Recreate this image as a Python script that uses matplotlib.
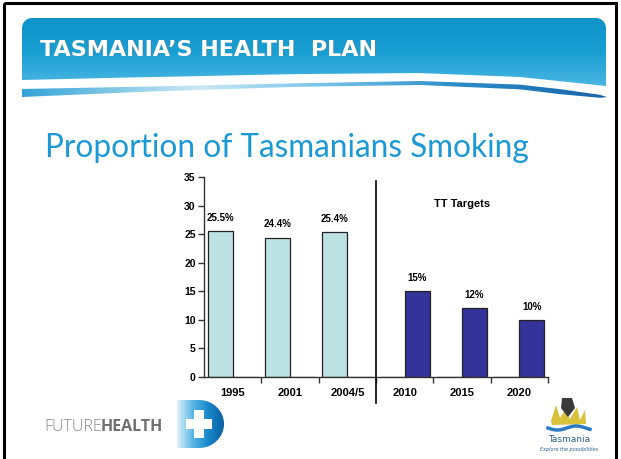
import numpy as np
import matplotlib
matplotlib.use("Agg")
import matplotlib.pyplot as plt
import matplotlib.transforms as mtransforms
from matplotlib.path import Path
from matplotlib.patches import PathPatch, Rectangle, Polygon
from matplotlib.colors import LinearSegmentedColormap

# ---- data ----
categories = ["1995", "2001", "2004/5", "2010", "2015", "2020"]
actual = [25.5, 24.4, 25.4, 0, 0, 0]
targets = [0, 0, 0, 15, 12, 10]
actual_labels = ["25.5%", "24.4%", "25.4%", "", "", ""]
target_labels = ["", "", "", "15%", "12%", "10%"]
yticks = [0, 5, 10, 15, 20, 25, 30, 35]

W, H = 621, 459
fig = plt.figure(figsize=(W / 100, H / 100), dpi=100)
fig.patch.set_facecolor("white")

# overlay axes in pixel coordinates for slide decorations
deco = fig.add_axes([0, 0, 1, 1])
deco.set_xlim(0, W)
deco.set_ylim(H, 0)
deco.axis("off")

# frame
deco.add_patch(Rectangle((4, 3), 612, 460, fill=False, ec="black", lw=2.2, zorder=5))

# header banner with gradient
xs = np.linspace(22, 606, 200)
yb = np.interp(xs, [22, 150, 300, 420, 520, 606], [80, 77, 74, 73, 77, 86])
r = 10
top = []
for a in np.linspace(np.pi, 1.5 * np.pi, 10):
    top.append((22 + r + r * np.cos(a), 18 + r + r * np.sin(a)))
for a in np.linspace(1.5 * np.pi, 2 * np.pi, 10):
    top.append((606 - r + r * np.cos(a), 18 + r + r * np.sin(a)))
bottom = list(zip(xs[::-1], yb[::-1]))
verts = top + bottom + [top[0]]
banner_patch = PathPatch(Path(verts), fc="none", ec="none")
deco.add_patch(banner_patch)
grad = np.linspace(0, 1, 100).reshape(-1, 1)
cmap_b = LinearSegmentedColormap.from_list("b", ["#0d93c9", "#1a9fd3", "#4db7e3"])
im = deco.imshow(grad, extent=(22, 606, 88, 18), cmap=cmap_b, aspect="auto", zorder=1)
im.set_clip_path(banner_patch)

# lower wave stripe
xs2 = np.linspace(22, 606, 200)
c = np.interp(xs2, [22, 150, 300, 420, 520, 606], [93, 89, 85, 83, 87, 97])
t = np.interp(xs2, [22, 150, 300, 420, 560, 600, 606], [8, 5, 3.5, 4, 5, 3, 0.5])
stripe = list(zip(xs2, c - t / 2)) + list(zip(xs2[::-1], (c + t / 2)[::-1]))
stripe_patch = Polygon(stripe, closed=True, fc="none", ec="none")
deco.add_patch(stripe_patch)
hgrad = np.linspace(0, 1, 200).reshape(1, -1)
cmap_s = LinearSegmentedColormap.from_list(
    "s", [(0, "#35a4d8"), (0.3, "#c9e8f5"), (0.5, "#7cc6ea"), (0.75, "#2a8cc8"), (1, "#1766a8")])
im2 = deco.imshow(hgrad, extent=(22, 606, 100, 76), cmap=cmap_s, aspect="auto", zorder=1)
im2.set_clip_path(stripe_patch)

# header text
shadow = deco.transData + mtransforms.ScaledTranslation(1 / 100, -1 / 100, fig.dpi_scale_trans)
for col, tr, z, al in [("#5a7f90", shadow, 2, 0.6), ("white", deco.transData, 3, 1.0)]:
    deco.text(40, 49.5, "TASMANIA\u2019S HEALTH  PLAN", color=col, fontsize=16,
              fontweight="bold", family="DejaVu Sans", va="center", ha="left",
              zorder=z, alpha=al, transform=tr)

# slide title
deco.text(45, 157, "Proportion of Tasmanians Smoking", color="#1b99d6", fontsize=22.7,
          family="Lato", va="baseline", ha="left")

# FUTUREHEALTH logo
t1 = deco.text(44, 427, "FUTURE", color="#8a8a8a", fontsize=11.5, family="Open Sans",
               fontweight="light", va="center", ha="left")
fig.canvas.draw()
bb = t1.get_window_extent()
x_end = bb.x1 - 1  # pixel coordinates equal data x in this overlay
deco.text(x_end, 427, "HEALTH", color="#6f6f6f", fontsize=11.5, family="Open Sans",
          fontweight="bold", va="center", ha="left")
dpath = []
for a in np.linspace(-np.pi / 2, np.pi / 2, 40):
    dpath.append((199 + 25 * np.cos(a), 424 + 24 * np.sin(a)))
dpath = [(177, 400)] + dpath + [(177, 448)]
dpatch = Polygon(dpath, closed=True, fc="none", ec="none")
deco.add_patch(dpatch)
dg = np.linspace(0, 1, 100).reshape(1, -1)
cmap_d = LinearSegmentedColormap.from_list("d", ["#e6f4fb", "#5bb8e6", "#1787c9", "#0c5f9e"])
im3 = deco.imshow(dg, extent=(176, 225, 449, 399), cmap=cmap_d, aspect="auto", zorder=2)
im3.set_clip_path(dpatch)
deco.add_patch(Rectangle((186, 419), 26, 10, fc="white", ec="none", zorder=3))
deco.add_patch(Rectangle((194, 410), 10, 28, fc="white", ec="none", zorder=3))

# Tasmania logo (simplified)
deco.add_patch(Polygon([(551, 421), (556, 405), (560, 418), (565, 410), (570, 419), (577, 407),
                        (580, 420), (585, 410), (586, 424), (552, 425)], closed=True,
                       fc="#d9c13a", ec="none", zorder=2))
deco.add_patch(Polygon([(562, 398), (572, 398), (575, 408), (568, 417), (561, 408)], closed=True,
                       fc="#3a3a3a", ec="none", zorder=3))
wx = np.linspace(548, 590, 40)
deco.plot(wx, 428 + 2 * np.sin((wx - 548) / 6), color="#2a7bbf", lw=2.5, zorder=3)
deco.text(569, 440, "Tasmania", color="#2d5f8a", fontsize=6.5, ha="center", va="center")
deco.text(569, 450, "Explore the possibilities", color="#2d5f8a", fontsize=3.5,
          style="italic", ha="center", va="center")

# ---- chart ----
ax = fig.add_axes([204 / W, 1 - 377 / H, 344 / W, 200 / H])
ax.set_facecolor("none")
n = len(categories)
x = np.arange(n)
bw = 0.436
ax.bar(x + 0.5, actual, width=-bw, align="edge", color="#bce2e4", edgecolor="#222222",
       linewidth=0.9, zorder=2)
ax.bar(x + 0.5, targets, width=bw, align="edge", color="#333399", edgecolor="#222222",
       linewidth=0.9, zorder=2)

for i in range(n):
    if actual_labels[i]:
        ax.annotate(actual_labels[i], (x[i] + 0.5 - bw / 2, actual[i]), xytext=(0, 9.5),
                    textcoords="offset points", ha="center", va="center", fontsize=7,
                    fontweight="bold", family="Liberation Sans")
    if target_labels[i]:
        ax.annotate(target_labels[i], (x[i] + 0.5 + bw / 2, targets[i]), xytext=(0, 9.5),
                    textcoords="offset points", ha="center", va="center", fontsize=7,
                    fontweight="bold", family="Liberation Sans")

ax.set_xlim(0, n)
ax.set_ylim(0, 35)
ax.set_yticks(yticks)
ax.set_yticklabels([str(v) for v in yticks], fontsize=7.5, fontweight="bold",
                   family="Liberation Sans")
ax.set_xticks(np.arange(1, n + 1))
ax.set_xticklabels([])
ax.set_xticks(x + 0.5, minor=True)
ax.set_xticklabels(categories, minor=True, fontsize=8, fontweight="bold",
                   family="Liberation Sans")
ax.tick_params(axis="x", which="major", direction="out", length=4, width=1, color="#333333")
ax.tick_params(axis="x", which="minor", length=0, pad=8)
ax.tick_params(axis="y", direction="out", length=4, width=1, color="#333333", pad=2)
for s in ["top", "right"]:
    ax.spines[s].set_visible(False)
for s in ["left", "bottom"]:
    ax.spines[s].set_color("#333333")
    ax.spines[s].set_linewidth(1)

# divider line between historic and target periods
ax.plot([3, 3], [34.3, -4.6], color="black", lw=1.2, clip_on=False, zorder=3)
ax.text(4.5, 30.2, "TT Targets", ha="center", va="center", fontsize=8, fontweight="bold",
        family="Liberation Sans")

fig.savefig("out.png", dpi=100)
